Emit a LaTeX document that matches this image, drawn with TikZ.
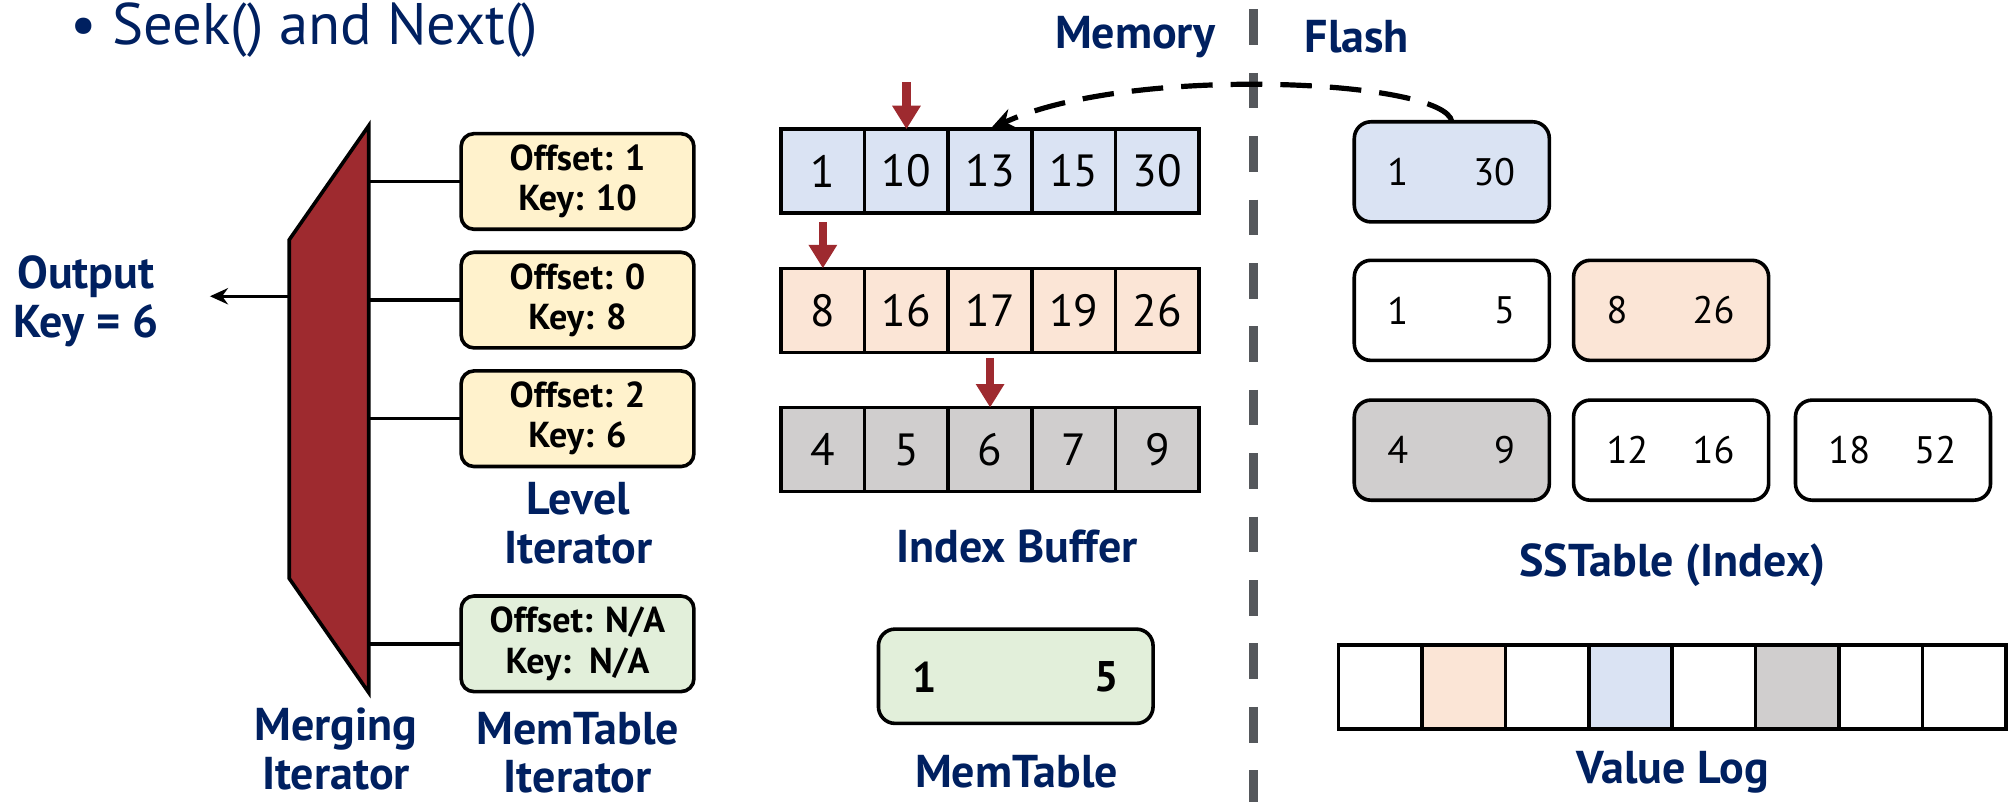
\documentclass[tikz,border=0pt]{standalone}
\usepackage{fontspec}
\setmainfont{PT Sans}
\usetikzlibrary{arrows.meta}
\definecolor{navy}{HTML}{002060}
\definecolor{mred}{HTML}{9E2A2F}
\definecolor{cblue}{HTML}{DAE3F3}
\definecolor{cpeach}{HTML}{FBE5D6}
\definecolor{cgray}{HTML}{D0CECE}
\definecolor{cyellow}{HTML}{FFF2CC}
\definecolor{cgreen}{HTML}{E2EFDA}
\definecolor{divgray}{HTML}{55585C}
\begin{document}
\begin{tikzpicture}[x=0.01cm,y=-0.01cm,
  lbl/.style={text=navy,font=\fontsize{10.2}{10.8}\selectfont\bfseries,align=center,inner sep=0pt},
  iterbox/.style={draw,line width=0.8pt,rounded corners=0.1cm,minimum width=1.814cm,minimum height=0.745cm,inner sep=0pt,outer sep=0pt,align=center,font=\fontsize{8}{8.9}\selectfont\bfseries},
  cell/.style={draw,line width=0.8pt,minimum width=0.652cm,minimum height=0.655cm,inner sep=0pt,outer sep=0pt,font=\fontsize{10}{12}\selectfont},
  sst/.style={draw,line width=0.8pt,rounded corners=0.13cm,minimum width=1.52cm,minimum height=0.78cm,inner sep=0pt,outer sep=0pt},
  sstnum/.style={font=\fontsize{8.5}{10}\selectfont,inner sep=0pt},
  vcell/.style={draw,line width=0.8pt,minimum width=0.6504cm,minimum height=0.656cm,inner sep=0pt,outer sep=0pt},
  redarrow/.style={draw=mred,line width=1.8pt,-{Triangle[width=6pt,length=5.2pt]}},
  conn/.style={line width=0.75pt}
]
\useasboundingbox (0,0) rectangle (1568,625);

% title
\node[anchor=base west,text=navy,font=\fontsize{13}{15}\selectfont,inner sep=0pt] (title) at (54,35) {\textbullet\hspace{3.5pt}Seek() and Next()};

% merging iterator
\coordinate (tT) at (287.5,98);
\coordinate (tB) at (287.5,540);
\coordinate (tBL) at (225.5,451);
\coordinate (tTL) at (225.5,187);
\draw[fill=mred,line width=0.8pt] (tT) -- (tB) -- (tBL) -- (tTL) -- cycle;
\coordinate (outA) at (225.5,231);
\coordinate (outTip) at (163.7,231);
\draw[conn,-{Stealth[length=4pt,width=3.6pt]}] (outA) -- (outTip);
\node[lbl] (output) at (67,235) {Output\\Key = 6};

% iterators
\node[iterbox,fill=cyellow] (it1) at (450.3,141.5) {Offset: 1\\Key: 10};
\node[iterbox,fill=cyellow] (it2) at (450.3,234) {Offset: 0\\Key: 8};
\node[iterbox,fill=cyellow] (it3) at (450.3,326.5) {Offset: 2\\Key: 6};
\node[iterbox,fill=cgreen] (it4) at (450.3,502) {Offset: N/A\\Key:\enspace N/A};
\foreach \b in {it1,it2,it3,it4}
  \draw[conn] (\b.west) -- (\b.west -| tT);

\node[lbl] (levellbl) at (451,408) {Level\\Iterator};
\node[lbl] (merglbl) at (262,584) {Merging\\Iterator};
\node[lbl] (mtitlbl) at (450.5,587) {MemTable\\Iterator};

% divider
\coordinate (divT) at (977.5,7.3);
\coordinate (divB) at (977.5,625);
\draw[divgray,line width=2pt,dash pattern=on 7.9pt off 6.16pt] (divT) -- (divB);
\node[lbl] (memlbl) at (885,29) {Memory};
\node[lbl] (flashlbl) at (1058,29) {Flash};

% index buffer
\foreach \v [count=\i] in {1,10,13,15,30}
  \node[cell,fill=cblue] (a\i) at ({641.6+65.2*(\i-1)},133.5) {\v};
\foreach \v [count=\i] in {8,16,17,19,26}
  \node[cell,fill=cpeach] (b\i) at ({641.6+65.2*(\i-1)},242) {\v};
\foreach \v [count=\i] in {4,5,6,7,9}
  \node[cell,fill=cgray] (c\i) at ({641.6+65.2*(\i-1)},350.5) {\v};
\draw[redarrow] ([yshift=0.365cm]a2.north) -- (a2.north);
\draw[redarrow] ([yshift=0.36cm]b1.north) -- (b1.north);
\draw[redarrow] ([yshift=0.386cm]c3.north) -- (c3.north);
\node[lbl] (iblbl) at (793,426) {Index Buffer};

% memtable
\node[draw,line width=0.8pt,rounded corners=0.13cm,fill=cgreen,minimum width=2.14cm,minimum height=0.735cm,inner sep=0pt] (mt) at (792,527.3) {};
\node[font=\fontsize{9.5}{11}\selectfont\bfseries,inner sep=0pt] (mt1) at (721,528) {1};
\node[font=\fontsize{9.5}{11}\selectfont\bfseries,inner sep=0pt] (mt5) at (862.5,528) {5};
\node[lbl] (mtlbl) at (792.6,602) {MemTable};

% sstables
\node[sst,fill=cblue] (sA) at (1132,134) {};
\node[sst,fill=white] (sB1) at (1132,242) {};
\node[sst,fill=cpeach] (sB2) at (1303,242) {};
\node[sst,fill=cgray] (sC1) at (1132,351) {};
\node[sst,fill=white] (sC2) at (1303,351) {};
\node[sst,fill=white] (sC3) at (1476,351) {};
\foreach \s/\l/\r in {sA/1/30,sB1/1/5,sB2/8/26,sC1/4/9,sC2/12/16,sC3/18/52}{
  \node[sstnum,anchor=west] (\s l) at ([xshift=0.25cm]\s.west) {\l};
  \node[sstnum,anchor=east] (\s r) at ([xshift=-0.26cm]\s.east) {\r};
}
\node[lbl] (sstlbl) at (1304,440.5) {SSTable (Index)};

% value log
\foreach \f [count=\i] in {white,cpeach,white,cblue,white,cgray,white,white}
  \node[vcell,fill=\f] (v\i) at ({1043.7+32.52+65.04*(\i-1)},535.8) {};
\node[lbl] (vllbl) at (1304,602) {Value Log};

% dashed curve
\draw[line width=1.15pt,dash pattern=on 7pt off 4pt,-{Stealth[length=5.5pt,width=4.6pt]}] (sA.north) .. controls (1128,62) and (880,50) .. (a3.north);
\end{tikzpicture}
\end{document}
